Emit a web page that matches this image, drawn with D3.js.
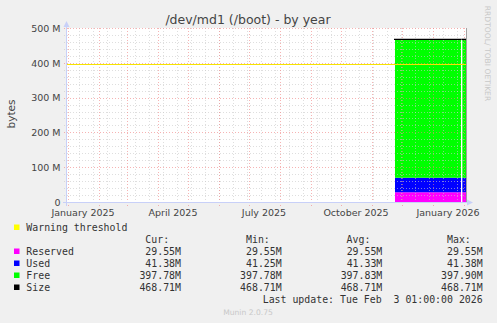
<!DOCTYPE html>
<html><head><meta charset="utf-8">
<script src="https://cdn.jsdelivr.net/npm/d3@7"></script>
<style>html,body{margin:0;padding:0;background:#f0f0f0;}svg{display:block;}</style>
</head><body>
<script>
// ---- data ----
const title = "/dev/md1 (/boot) - by year";
const endTime = "2026-02-03T00:00:00Z";
const segStarts = ["2025-11-24T00:00:00Z", "2026-01-30T08:00:00Z"];
const segEnds   = ["2026-01-29T00:00:00Z", "2026-02-03T00:00:00Z"];
const reserved = [29.55e6, 29.55e6];
const used     = [41.38e6, 41.38e6];
const free     = [397.78e6, 397.78e6];
const size     = [468.71e6, 468.71e6];
const warning  = 397e6;
const yTickValues = [0, 100e6, 200e6, 300e6, 400e6, 500e6];
const yTickLabels = ["0", "100 M", "200 M", "300 M", "400 M", "500 M"];
const xLabelDates = ["2025-01-01", "2025-04-01", "2025-07-01", "2025-10-01", "2026-01-01"];
const xLabelTexts = ["January 2025", "April 2025", "July 2025", "October 2025", "January 2026"];
const legendNames = ["Reserved", "Used", "Free", "Size"];
const statCur = [29.55, 41.38, 397.78, 468.71];
const statMin = [29.55, 41.25, 397.78, 468.71];
const statAvg = [29.55, 41.33, 397.83, 468.71];
const statMax = [29.55, 41.38, 397.90, 468.71];
const lastUpdate = "Last update: Tue Feb  3 01:00:00 2026";

// ---- drawing ----
const W = 497, H = 323;
const svg = d3.select("body").append("svg").attr("width", W).attr("height", H);
svg.append("rect").attr("width", W).attr("height", H).attr("fill", "#f0f0f0");

const end = new Date(endTime);
const start = d3.utcDay.offset(end, -400);
const x = d3.scaleUtc().domain([start, end]).range([66, 466]);
const y = d3.scaleLinear().domain([0, 500e6]).range([202.5, 28.5]);

svg.append("rect").attr("x", 66).attr("y", 28).attr("width", 400).attr("height", 174.5).attr("fill", "#fff");

// stacked areas
const segs = segStarts.map((s, i) => ({ t0: new Date(s), t1: new Date(segEnds[i]), Reserved: reserved[i], Used: used[i], Free: free[i], Size: size[i] }));
const keys = ["Reserved", "Used", "Free"];
const colors = { Reserved: "#ff00ff", Used: "#0000ff", Free: "#00ff00" };
const stacked = d3.stack().keys(keys)(segs);
stacked.forEach(layer => {
  layer.forEach(d => {
    const seg = d.data;
    const area = d3.area().x(t => x(t)).y0(y(d[0])).y1(y(d[1]));
    svg.append("path").attr("d", area([seg.t0, seg.t1])).attr("fill", colors[layer.key]);
  });
});

// grid (on top)
const g = svg.append("g").attr("shape-rendering", "crispEdges");
const minorC = "#c8c8c8", minorO = 0.6, majorC = "#f08080", majorO = 0.6;
const minorY = d3.range(0, 500e6 + 1, 20e6);
minorY.forEach(v => {
  if (v % 100e6 === 0) return;
  g.append("line").attr("x1", 64).attr("x2", 469).attr("y1", y(v)).attr("y2", y(v))
    .attr("stroke", minorC).attr("stroke-opacity", minorO).attr("stroke-dasharray", "1,2");
});
const minorX = d3.utcDay.range(new Date("2024-12-29T00:00:00Z"), end, 14).filter(t => t >= start);
minorX.forEach(t => {
  g.append("line").attr("x1", x(t)).attr("x2", x(t)).attr("y1", 28).attr("y2", 205)
    .attr("stroke", minorC).attr("stroke-opacity", minorO).attr("stroke-dasharray", "1,2");
});
yTickValues.forEach(v => {
  g.append("line").attr("x1", 64).attr("x2", 469).attr("y1", y(v)).attr("y2", y(v))
    .attr("stroke", majorC).attr("stroke-opacity", majorO).attr("stroke-dasharray", "1,2");
});
d3.utcMonth.range(start, end).forEach(t => {
  g.append("line").attr("x1", x(t)).attr("x2", x(t)).attr("y1", 28).attr("y2", 207)
    .attr("stroke", majorC).attr("stroke-opacity", majorO).attr("stroke-dasharray", "1,2");
});

// size line
segs.forEach(seg => {
  const line = d3.line().x(t => x(t)).y(y(seg.Size));
  svg.append("path").attr("d", line([d3.utcDay.offset(seg.t0, -1), seg.t1])).attr("stroke", "#000").attr("stroke-width", 1.4).attr("fill", "none");
});
// warning rule
svg.append("line").attr("x1", 66).attr("x2", 466).attr("y1", Math.round(y(warning)) + 0.5).attr("y2", Math.round(y(warning)) + 0.5)
  .attr("stroke", "#f5e400").attr("stroke-width", 1);

// right edge line
svg.append("line").attr("x1", 466.5).attr("x2", 466.5).attr("y1", 28).attr("y2", 202)
  .attr("stroke", "#a0a0a0").attr("stroke-width", 1);

// axes
const axisColor = "#c8d0f8";
svg.append("line").attr("x1", 66.5).attr("x2", 66.5).attr("y1", 206).attr("y2", 25).attr("stroke", axisColor);
svg.append("path").attr("d", "M63.5,27L66.5,21L69.5,27Z").attr("fill", axisColor);
svg.append("line").attr("x1", 63).attr("x2", 469).attr("y1", 202.5).attr("y2", 202.5).attr("stroke", axisColor);
svg.append("path").attr("d", "M467,199.5L473,202.5L467,205.5Z").attr("fill", axisColor);

const textColor = "#444";
// y labels
yTickValues.forEach((v, i) => {
  svg.append("text").attr("x", 60.5).attr("y", y(v) + 3.2).attr("text-anchor", "end")
    .attr("font-family", "DejaVu Sans").attr("font-size", 9.5).attr("fill", textColor).text(yTickLabels[i]);
});
// x labels
xLabelDates.forEach((d, i) => {
  const t = d3.utcDay.offset(new Date(d + "T00:00:00Z"), 15);
  svg.append("text").attr("x", x(t)).attr("y", 215.5).attr("text-anchor", "middle")
    .attr("font-family", "DejaVu Sans").attr("font-size", 9.5).attr("fill", textColor).text(xLabelTexts[i]);
});
// title
svg.append("text").attr("x", 248).attr("y", 23.5).attr("text-anchor", "middle")
  .attr("font-family", "DejaVu Sans").attr("font-size", 12.5).attr("fill", textColor).text(title);
// y title
svg.append("text").attr("transform", "translate(14.5,114) rotate(-90)").attr("text-anchor", "middle")
  .attr("font-family", "DejaVu Sans").attr("font-size", 10.5).attr("fill", textColor).text("bytes");
// right watermark
svg.append("text").attr("transform", "translate(485,53.5) rotate(90)").attr("text-anchor", "middle")
  .attr("font-family", "DejaVu Sans").attr("font-size", 7.6).attr("fill", "#c8c8c8").text("RRDTOOL/ TOBI OETIKER");

// legend
const mono = "DejaVu Sans Mono", lfs = 9.9;
function ltext(xp, yp, s, anchor) {
  svg.append("text").attr("x", xp).attr("y", yp).attr("text-anchor", anchor || "start")
    .attr("font-family", mono).attr("font-size", lfs).attr("fill", "#333")
    .style("white-space", "pre").text(s);
}
const legendColors = ["#ff00ff", "#0000ff", "#00ff00", "#000000"];
svg.append("rect").attr("x", 14).attr("y", 224.5).attr("width", 5.5).attr("height", 5.5).attr("fill", "#ffff00");
ltext(26.3, 231.3, "Warning threshold");
const colEnds = [181, 281.7, 382.3, 482.7];
["Cur:", "Min:", "Avg:", "Max:"].forEach((h, i) => ltext(colEnds[i] - 11.9, 243.3, h, "end"));
const fmt = v => d3.format(".2f")(v) + "M";
legendNames.forEach((n, i) => {
  const yb = 255.3 + i * 12;
  svg.append("rect").attr("x", 14).attr("y", yb - 6.8).attr("width", 5.5).attr("height", 5.5).attr("fill", legendColors[i]);
  ltext(26.3, yb, n);
  [statCur, statMin, statAvg, statMax].forEach((arr, j) => ltext(colEnds[j], yb, fmt(arr[i]), "end"));
});
ltext(482.7, 303.3, lastUpdate, "end");
svg.append("text").attr("x", 248).attr("y", 315).attr("text-anchor", "middle")
  .attr("font-family", "DejaVu Sans").attr("font-size", 7.6).attr("fill", "#c8c8c8").text("Munin 2.0.75");
</script>
</body></html>
